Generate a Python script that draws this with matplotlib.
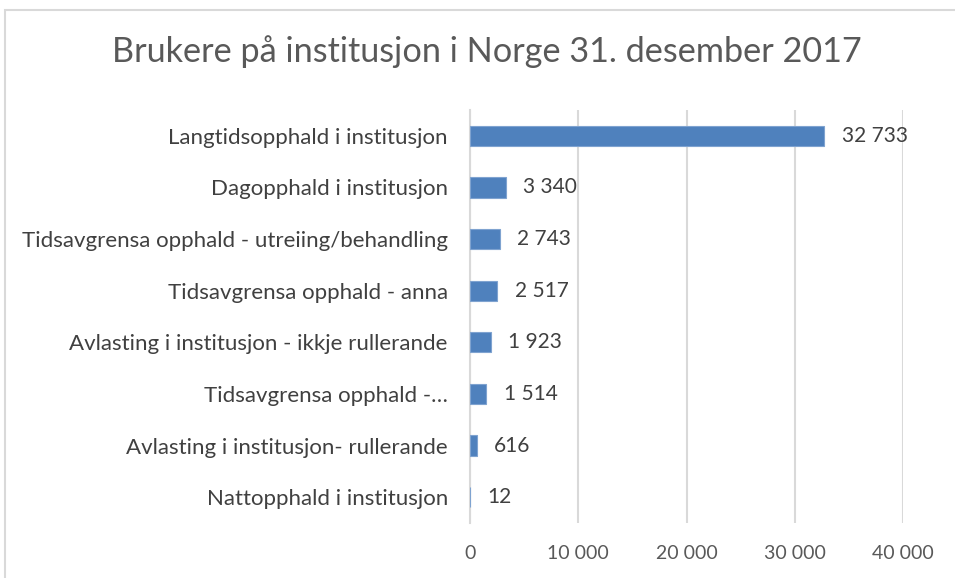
import matplotlib
matplotlib.use("Agg")
import matplotlib.pyplot as plt
from matplotlib.patches import Rectangle

plt.rcParams['font.family'] = ['Lato', 'DejaVu Sans']

# Data
kategoriar = [
    "Langtidsopphald i institusjon",
    "Dagopphald i institusjon",
    "Tidsavgrensa opphald - utreiing/behandling",
    "Tidsavgrensa opphald - anna",
    "Avlasting i institusjon - ikkje rullerande",
    "Tidsavgrensa opphald -…",
    "Avlasting i institusjon- rullerande",
    "Nattopphald i institusjon",
]
brukarar = [32733, 3340, 2743, 2517, 1923, 1514, 616, 12]
x_ticks = [0, 10000, 20000, 30000, 40000]


def fmt(v):
    return f"{v:,}".replace(",", " ")


fig = plt.figure(figsize=(9.55, 5.78), dpi=100)
ax = fig.add_axes([470 / 955, 1 - 523 / 578, 433 / 955, 413 / 578])

# frame around the chart area
fig.patches.append(Rectangle((5 / 955, -0.1), 1.2, 1.1 - 10 / 578,
                             transform=fig.transFigure, fill=False,
                             edgecolor='#D9D9D9', linewidth=1.5))

y = list(range(len(kategoriar)))
ax.barh(y, brukarar, height=0.39, color='#4F81BD', edgecolor='#7FA3D0',
        linewidth=0.8, zorder=3)
ax.set_ylim(len(kategoriar) - 0.5, -0.5)
ax.set_xlim(0, 40000)

for yi, v in zip(y, brukarar):
    ax.text(v + 1600, yi, fmt(v), va='center', ha='left', fontsize=15,
            color='#404040')

ax.set_yticks(y)
ax.set_yticklabels(kategoriar, fontsize=16, color='#404040')
ax.set_xticks(x_ticks)
ax.set_xticklabels([fmt(t) for t in x_ticks], fontsize=14, color='#595959')
ax.tick_params(axis='both', length=0)
ax.tick_params(axis='y', pad=16)
ax.tick_params(axis='x', pad=16)

ax.grid(axis='x', color='#D9D9D9', linewidth=1.5, zorder=0)
for s in ['top', 'right', 'bottom']:
    ax.spines[s].set_visible(False)
ax.spines['left'].set_color('#D9D9D9')
ax.spines['left'].set_linewidth(1.5)

fig.text(487 / 955, 1 - 52 / 578, "Brukere på institusjon i Norge 31. desember 2017",
         ha='center', va='center', fontsize=24.7, color='#595959')

fig.savefig("out.png", dpi=100)
